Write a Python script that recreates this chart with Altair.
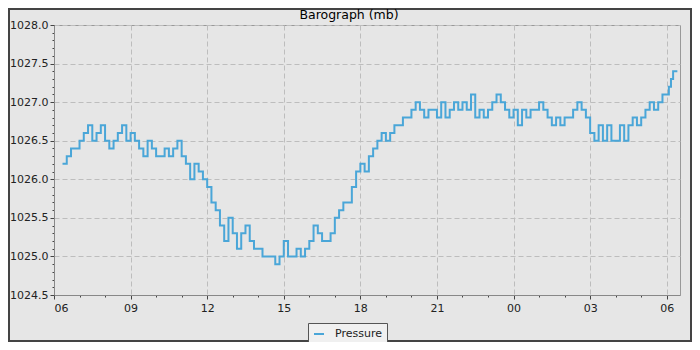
import altair as alt
import pandas as pd

# ---- data (10-minute readings, step line) ----
reading_times = [
    "06:20", "06:30", "06:40", "06:50",
    "07:00", "07:10", "07:20", "07:30", "07:40", "07:50",
    "08:00", "08:10", "08:20", "08:30", "08:40", "08:50",
    "09:00", "09:10", "09:20", "09:30", "09:40", "09:50",
    "10:00", "10:10", "10:20", "10:30", "10:40", "10:50",
    "11:00", "11:10", "11:20", "11:30", "11:40", "11:50",
    "12:00", "12:10", "12:20", "12:30", "12:40", "12:50",
    "13:00", "13:10", "13:20", "13:30", "13:40", "13:50",
    "14:00", "14:10", "14:20", "14:30", "14:40", "14:50",
    "15:00", "15:10", "15:20", "15:30", "15:40", "15:50",
    "16:00", "16:10", "16:20", "16:30", "16:40", "16:50",
    "17:00", "17:10", "17:20", "17:30", "17:40", "17:50",
    "18:00", "18:10", "18:20", "18:30", "18:40", "18:50",
    "19:00", "19:10", "19:20", "19:30", "19:40", "19:50",
    "20:00", "20:10", "20:20", "20:30", "20:40", "20:50",
    "21:00", "21:10", "21:20", "21:30", "21:40", "21:50",
    "22:00", "22:10", "22:20", "22:30", "22:40", "22:50",
    "23:00", "23:10", "23:20", "23:30", "23:40", "23:50",
    "00:00", "00:10", "00:20", "00:30", "00:40", "00:50",
    "01:00", "01:10", "01:20", "01:30", "01:40", "01:50",
    "02:00", "02:10", "02:20", "02:30", "02:40", "02:50",
    "03:00", "03:10", "03:20", "03:30", "03:40", "03:50",
    "04:00", "04:10", "04:20", "04:30", "04:40", "04:50",
    "05:00", "05:10", "05:20", "05:30", "05:40", "05:50",
    "06:00", "06:05", "06:10", "06:15", "06:25",
]

pressure = [
    1026.2, 1026.3, 1026.4, 1026.4,
    1026.5, 1026.6, 1026.7, 1026.5, 1026.6, 1026.7,
    1026.5, 1026.4, 1026.5, 1026.6, 1026.7, 1026.5,
    1026.6, 1026.5, 1026.4, 1026.3, 1026.5, 1026.4,
    1026.3, 1026.3, 1026.4, 1026.3, 1026.4, 1026.5,
    1026.3, 1026.2, 1026.0, 1026.2, 1026.1, 1026.0,
    1025.9, 1025.7, 1025.6, 1025.4, 1025.2, 1025.5,
    1025.3, 1025.1, 1025.3, 1025.4, 1025.2, 1025.1,
    1025.1, 1025.0, 1025.0, 1025.0, 1024.9, 1025.0,
    1025.2, 1025.0, 1025.0, 1025.1, 1025.0, 1025.1,
    1025.2, 1025.4, 1025.3, 1025.2, 1025.2, 1025.3,
    1025.5, 1025.6, 1025.7, 1025.7, 1025.9, 1026.1,
    1026.2, 1026.1, 1026.3, 1026.4, 1026.5, 1026.6,
    1026.5, 1026.6, 1026.7, 1026.7, 1026.8, 1026.8,
    1026.9, 1027.0, 1026.9, 1026.8, 1026.9, 1026.9,
    1026.8, 1027.0, 1026.8, 1026.9, 1027.0, 1026.9,
    1027.0, 1026.9, 1027.1, 1026.8, 1026.9, 1026.8,
    1026.9, 1027.0, 1027.1, 1027.0, 1026.9, 1026.8,
    1026.9, 1026.7, 1026.9, 1026.8, 1026.9, 1026.9,
    1027.0, 1026.9, 1026.8, 1026.7, 1026.8, 1026.7,
    1026.8, 1026.8, 1026.9, 1027.0, 1026.9, 1026.8,
    1026.6, 1026.5, 1026.7, 1026.5, 1026.7, 1026.5,
    1026.5, 1026.7, 1026.5, 1026.7, 1026.8, 1026.7,
    1026.8, 1026.9, 1027.0, 1026.9, 1027.0, 1027.1,
    1027.1, 1027.2, 1027.3, 1027.4, 1027.4,
]

series_name = "Pressure"
x_major_hours = [6, 9, 12, 15, 18, 21, 24, 27, 30]
x_minor_hours = list(range(6, 31))
y_major = [1024.5, 1025.0, 1025.5, 1026.0, 1026.5, 1027.0, 1027.5, 1028.0]
y_minor = [round(1024.5 + 0.1 * i, 1) for i in range(36)]

# hours since midnight of the first day (rolls over past midnight)
hours = []
offset = 0
prev = None
for t in reading_times:
    h, m = t.split(":")
    v = int(h) + int(m) / 60.0
    if prev is not None and v + offset < prev:
        offset += 24
    hours.append(v + offset)
    prev = v + offset

df = pd.DataFrame({"hour": hours, "pressure": pressure, "series": series_name})

FONT = "DejaVu Sans"
BG = "#e6e6e6"
LINE = "#4aa6d8"
X_DOMAIN = [6, 30.52]
Y_DOMAIN = [1024.5, 1028.0]
label_expr = "(datum.value % 24 < 10 ? '0' : '') + (datum.value % 24)"

minor = alt.Chart(df).mark_line(opacity=0).encode(
    x=alt.X("hour:Q", scale=alt.Scale(domain=X_DOMAIN, nice=False, zero=False),
            axis=alt.Axis(values=x_minor_hours, labels=False, grid=False, domain=False,
                          tickSize=2, tickColor="#444", orient="bottom", title=None)),
    y=alt.Y("pressure:Q", scale=alt.Scale(domain=Y_DOMAIN, nice=False, zero=False),
            axis=alt.Axis(values=y_minor, labels=False, grid=False, domain=False,
                          tickSize=2, tickColor="#444", orient="left", title=None)),
)

line = alt.Chart(df).mark_line(interpolate="step-after", strokeWidth=2).encode(
    x=alt.X("hour:Q", scale=alt.Scale(domain=X_DOMAIN, nice=False, zero=False),
            axis=alt.Axis(values=x_major_hours, labelExpr=label_expr, title=None,
                          grid=True, gridDash=[5, 3], gridColor="#bdbdbd",
                          tickSize=4, tickColor="#444", domainColor="#888",
                          labelFont=FONT, labelFontSize=11, labelColor="#222",
                          labelPadding=3, orient="bottom")),
    y=alt.Y("pressure:Q", scale=alt.Scale(domain=Y_DOMAIN, nice=False, zero=False),
            axis=alt.Axis(values=y_major, format=".1f", title=None,
                          grid=True, gridDash=[5, 3], gridColor="#bdbdbd",
                          tickSize=4, tickColor="#444", domainColor="#888",
                          labelFont=FONT, labelFontSize=11, labelColor="#222",
                          labelPadding=2, orient="left")),
    color=alt.Color("series:N", scale=alt.Scale(range=[LINE]),
                    legend=alt.Legend(title=None, orient="none", legendX=254, legendY=298,
                                      fillColor="#f0f0f0", strokeColor="#555",
                                      padding=5, symbolType="stroke", symbolStrokeWidth=2,
                                      symbolSize=100, labelOffset=10,
                                      labelFont=FONT, labelFontSize=11,
                                      labelColor="#222", direction="horizontal")),
)

frame = alt.Chart(pd.DataFrame({"k": [0]})).mark_rect(
    fillOpacity=0, stroke="#444", strokeWidth=2
).encode(
    x=alt.value(-45), x2=alt.value(637), y=alt.value(-16), y2=alt.value(316)
)

chart = alt.layer(minor, line, frame).resolve_axis(
    x="independent", y="independent"
).properties(
    width=626, height=270,
    autosize=alt.AutoSizeParams(type="none"),
    padding={"left": 46, "top": 17, "right": 12, "bottom": 47},
    background=BG,
    title=alt.Title("Barograph (mb)", font=FONT, fontSize=12.5, fontWeight="normal",
                    color="#000", offset=1, dy=14, dx=-18, anchor="middle"),
).configure_view(stroke="#999", fill=BG)

chart.save("out.html", embed_options={"renderer": "svg", "actions": False})
